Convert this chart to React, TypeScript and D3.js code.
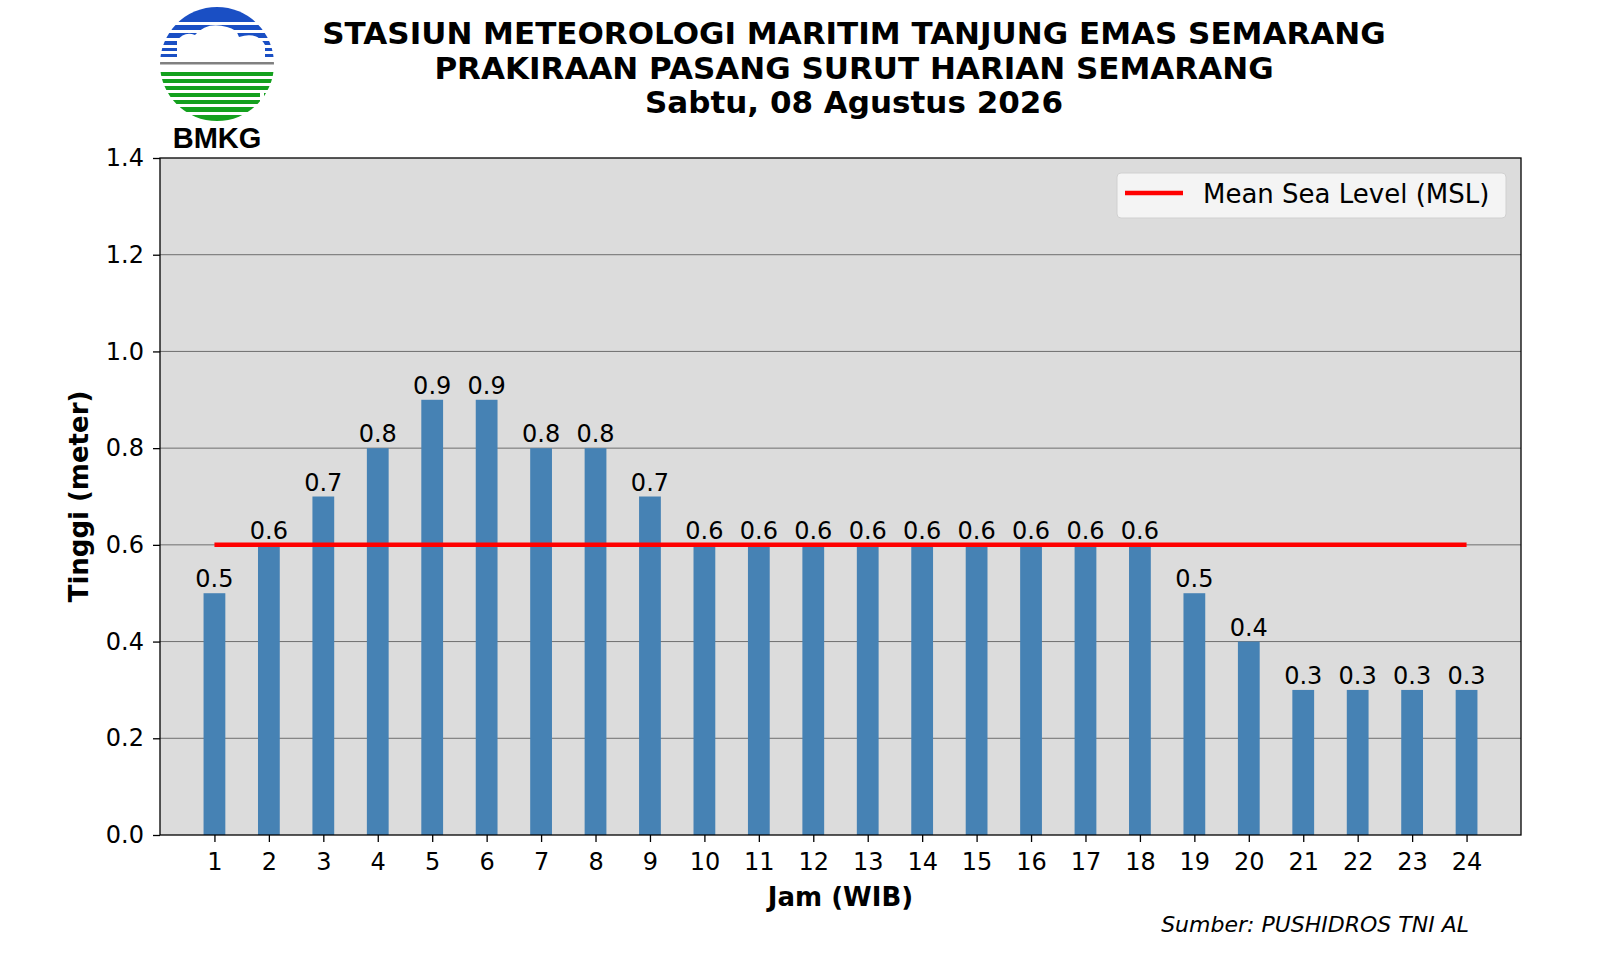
import { useEffect, useRef } from 'react'
import * as d3 from 'd3'

// hourly tide forecast, Semarang
const hours = d3.range(1, 25)
const heights = [
  0.5, 0.6, 0.7, 0.8, 0.9, 0.9, 0.8, 0.8, 0.7, 0.6, 0.6, 0.6, 0.6, 0.6, 0.6, 0.6, 0.6, 0.6, 0.5,
  0.4, 0.3, 0.3, 0.3, 0.3,
]
const msl = 0.6
const yTicks = [0, 0.2, 0.4, 0.6, 0.8, 1.0, 1.2, 1.4]
const titleLines = [
  'STASIUN METEOROLOGI MARITIM TANJUNG EMAS SEMARANG',
  'PRAKIRAAN PASANG SURUT HARIAN SEMARANG',
  'Sabtu, 08 Agustus 2026',
]

const FONT = '"DejaVu Sans", Verdana, sans-serif'

export default function App() {
  const ref = useRef<SVGSVGElement>(null)

  useEffect(() => {
    if (!ref.current) return
    const svg = d3.select(ref.current)
    svg.selectAll('*').remove()

    const W = 1600
    const H = 960
    const m = { left: 160, right: 1521, top: 158, bottom: 835 }

    const x = d3.scaleLinear().domain([0, 25]).range([m.left, m.right])
    const y = d3.scaleLinear().domain([0, 1.4]).range([m.bottom, m.top])
    const barW = x(0.4) - x(0)

    svg.append('rect').attr('width', W).attr('height', H).attr('fill', '#fff')

    // ── plot background ───────────────────────────────────────────────
    svg
      .append('rect')
      .attr('x', m.left)
      .attr('y', m.top)
      .attr('width', m.right - m.left)
      .attr('height', m.bottom - m.top)
      .attr('fill', '#dcdcdc')

    // ── grid lines ────────────────────────────────────────────────────
    svg
      .append('g')
      .selectAll('line')
      .data(yTicks.slice(1, -1))
      .join('line')
      .attr('x1', m.left)
      .attr('x2', m.right)
      .attr('y1', (d) => y(d))
      .attr('y2', (d) => y(d))
      .attr('stroke', '#6e6e6e')
      .attr('stroke-width', 1)

    // ── bars ──────────────────────────────────────────────────────────
    svg
      .append('g')
      .selectAll('rect')
      .data(hours)
      .join('rect')
      .attr('x', (d) => x(d) - barW / 2)
      .attr('y', (d, i) => y(heights[i]))
      .attr('width', barW)
      .attr('height', (d, i) => y(0) - y(heights[i]))
      .attr('fill', '#4682b4')

    // ── value labels ──────────────────────────────────────────────────
    svg
      .append('g')
      .selectAll('text')
      .data(hours)
      .join('text')
      .attr('x', (d) => x(d))
      .attr('y', (d, i) => y(heights[i]) - 6)
      .attr('text-anchor', 'middle')
      .style('font-family', FONT)
      .style('font-size', '24px')
      .style('fill', '#000')
      .text((d, i) => heights[i].toFixed(1))

    // ── MSL line ──────────────────────────────────────────────────────
    svg
      .append('line')
      .attr('x1', x(hours[0]))
      .attr('x2', x(hours[hours.length - 1]))
      .attr('y1', y(msl))
      .attr('y2', y(msl))
      .attr('stroke', '#ff0000')
      .attr('stroke-width', 4.5)

    // ── frame ─────────────────────────────────────────────────────────
    svg
      .append('rect')
      .attr('x', m.left)
      .attr('y', m.top)
      .attr('width', m.right - m.left)
      .attr('height', m.bottom - m.top)
      .attr('fill', 'none')
      .attr('stroke', '#000')
      .attr('stroke-width', 1.3)

    // ── axes ──────────────────────────────────────────────────────────
    const xAxis = svg
      .append('g')
      .attr('transform', `translate(0,${m.bottom})`)
      .call(d3.axisBottom(x).tickValues(hours).tickSize(7).tickPadding(11).tickFormat(d3.format('d')))
    const yAxis = svg
      .append('g')
      .attr('transform', `translate(${m.left},0)`)
      .call(d3.axisLeft(y).tickValues(yTicks).tickSize(7).tickPadding(9).tickFormat(d3.format('.1f')))
    ;[xAxis, yAxis].forEach((g) => {
      g.select('.domain').remove()
      g.selectAll('line').attr('stroke', '#000').attr('stroke-width', 1.3)
      g.selectAll('text')
        .style('font-family', FONT)
        .style('font-size', '24px')
        .style('fill', '#000')
    })
    xAxis.selectAll('text').attr('dy', '0.71em')

    svg
      .append('text')
      .attr('x', (m.left + m.right) / 2)
      .attr('y', 906)
      .attr('text-anchor', 'middle')
      .style('font-family', FONT)
      .style('font-size', '26px')
      .style('font-weight', 'bold')
      .text('Jam (WIB)')

    svg
      .append('text')
      .attr('transform', `translate(88,${(m.top + m.bottom) / 2}) rotate(-90)`)
      .attr('text-anchor', 'middle')
      .style('font-family', FONT)
      .style('font-size', '26px')
      .style('font-weight', 'bold')
      .text('Tinggi (meter)')

    // ── legend ────────────────────────────────────────────────────────
    const lg = svg.append('g').attr('transform', 'translate(1117,173)')
    lg.append('rect')
      .attr('width', 389)
      .attr('height', 45)
      .attr('rx', 4)
      .attr('fill', '#f4f4f4')
      .attr('stroke', '#d0d0d0')
    lg.append('line')
      .attr('x1', 8)
      .attr('x2', 66)
      .attr('y1', 20)
      .attr('y2', 20)
      .attr('stroke', '#ff0000')
      .attr('stroke-width', 4.5)
    lg.append('text')
      .attr('x', 86)
      .attr('y', 30)
      .style('font-family', FONT)
      .style('font-size', '26px')
      .text('Mean Sea Level (MSL)')

    // ── title ─────────────────────────────────────────────────────────
    svg
      .append('g')
      .selectAll('text')
      .data(titleLines)
      .join('text')
      .attr('x', 854)
      .attr('y', (d, i) => 44 + i * 34.5)
      .attr('text-anchor', 'middle')
      .style('font-family', FONT)
      .style('font-size', '31px')
      .style('font-weight', 'bold')
      .text((d) => d)

    // ── source note ───────────────────────────────────────────────────
    svg
      .append('text')
      .attr('x', 1469)
      .attr('y', 932)
      .attr('text-anchor', 'end')
      .style('font-family', FONT)
      .style('font-size', '22px')
      .style('font-style', 'italic')
      .text('Sumber: PUSHIDROS TNI AL')

    // ── BMKG logo (simplified) ────────────────────────────────────────
    const cx = 217
    const cy = 64
    const r = 57
    const defs = svg.append('defs')
    defs.append('clipPath').attr('id', 'logo-clip').append('circle').attr('cx', cx).attr('cy', cy).attr('r', r)
    const logo = svg.append('g').attr('clip-path', 'url(#logo-clip)')

    const blue = '#1a4fc4'
    const green = '#14a01e'
    const blueBands: [number, number][] = [
      [5, 22],
      [25, 30],
      [33, 38],
      [41, 45],
      [48, 51],
      [54, 57],
    ]
    blueBands.forEach(([a, b]) => {
      logo.append('rect').attr('x', cx - r).attr('y', a).attr('width', 2 * r).attr('height', b - a).attr('fill', blue)
    })
    // cloud cut-out
    const cloud = d3.path()
    cloud.moveTo(cx - 40, 61)
    cloud.lineTo(cx - 40, 41)
    cloud.quadraticCurveTo(cx - 33, 31, cx - 22, 35)
    cloud.quadraticCurveTo(cx - 10, 21, cx + 10, 27)
    cloud.quadraticCurveTo(cx + 20, 29, cx + 22, 37)
    cloud.quadraticCurveTo(cx + 40, 31, cx + 48, 45)
    cloud.lineTo(cx + 48, 61)
    cloud.closePath()
    logo.append('path').attr('d', cloud.toString()).attr('fill', '#fff')
    logo.append('rect').attr('x', cx - r).attr('y', 62).attr('width', 2 * r).attr('height', 2.5).attr('fill', '#808080')

    const greenBands: [number, number][] = [
      [72, 76],
      [79, 83],
      [86, 90],
      [93, 97],
      [100, 104],
      [107, 112],
      [115, 122],
    ]
    greenBands.forEach(([a, b], i) => {
      const off = i < 3 ? 0 : 14
      logo.append('rect').attr('x', cx - r - off).attr('y', a).attr('width', 2 * r).attr('height', b - a).attr('fill', green)
      logo.append('rect').attr('x', cx + r - off + 4).attr('y', a).attr('width', 2 * r).attr('height', b - a).attr('fill', green)
    })

    svg
      .append('text')
      .attr('x', cx)
      .attr('y', 148)
      .attr('text-anchor', 'middle')
      .style('font-family', '"Liberation Sans", Arial, sans-serif')
      .style('font-size', '29px')
      .style('font-weight', 'bold')
      .text('BMKG')
  }, [])

  return (
    <svg
      ref={ref}
      width={1600}
      height={960}
      style={{ position: 'absolute', left: 0, top: 0, display: 'block' }}
    />
  )
}
